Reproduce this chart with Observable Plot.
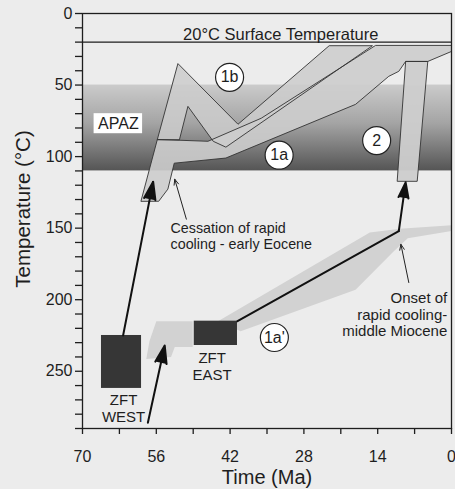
<!DOCTYPE html>
<html><head><meta charset="utf-8">
<script src="https://cdn.jsdelivr.net/npm/d3@7"></script>
<script src="https://cdn.jsdelivr.net/npm/@observablehq/plot@0.6"></script>
<style>
html,body{margin:0;padding:0;background:#ececec;}
#chart svg{display:block;}
</style></head><body><div id="chart"></div>
<script>
const FONT = "'Liberation Sans', Arial, Helvetica, sans-serif";

// axis ticks
const timeTicks = d3.range(0, 71, 7);      // Ma, labelled every 14
const tempTicks = d3.range(0, 291, 10);    // °C, labelled every 50

// reference levels
const surfaceTemp = [20];
const apazZone = [{t0: 70, t1: 0, top: 50, bottom: 110}];
const apazLabelBox = [{t0: 67.8, t1: 58.6, T0: 70, T1: 84}];

// time-temperature paths [Ma, °C]
const path1b = [[55.8,88],[51.9,35],[40.5,77.4],[23.2,22.5],[15.0,22.5],[42.8,93.4],[45.2,89.3],[50.0,64.9],[51.6,88]];
const path1a = [[58.9,131],[55.8,88],[46.2,89.3],[36.1,73.2],[14.4,22.3],[0,22.3],[0,26.5],[4.5,33.5],[8.7,33.5],[10.0,40.4],[11.9,43.9],[18.2,63.5],[42.8,101],[52.6,104.6],[53.8,122.7],[55.5,131]];
const path2 = [[10.3,117],[8.7,33.5],[4.5,33.5],[6.5,117]];
const path1aPrime = [[44.3,215],[15.5,153],[9.8,150.5],[0,148],[0,152],[8.3,157],[10.9,166],[18.2,193],[40,222]];
const westPatch = [[56,215],[49.1,215],[49.1,233],[52.5,233],[53.2,240],[57.9,241.5],[57.3,229]];

// zircon fission-track boxes
const zftBoxes = [
  {name: "WEST", t0: 66.4, t1: 58.8, T0: 225, T1: 262},
  {name: "EAST", t0: 48.8, t1: 40.6, T0: 215, T1: 232}
];

// black cooling path and arrows
const eastPath = [[40.6,215],[10,152]];
const thickArrows = [
  {t1: 62.3, T1: 225, t2: 56.6, T2: 117.5},
  {t1: 57.6, T1: 286, t2: 54.4, T2: 232},
  {t1: 10,   T1: 152, t2: 8.7,  T2: 118}
];
const noteArrows = [
  {t1: 50.3, T1: 143.7, t2: 52.5, T2: 115.8},
  {t1: 8.1,  T1: 188,   t2: 9.6,  T2: 161.3}
];

// labels
const circled = [
  {label: "1b", t: 42.1, T: 44.6},
  {label: "1a", t: 32.7, T: 99},
  {label: "2", t: 14.2, T: 88.8},
  {label: "1a'", t: 33.6, T: 226.4}
];
const notes = [
  {text: "20°C Surface Temperature", t: 32.4, T: 14.2, anchor: "middle", size: 16.5},
  {text: "APAZ", t: 63.2, T: 77, anchor: "middle", size: 16},
  {text: "Cessation of rapid\ncooling - early Eocene", t: 53.3, T: 155.5, anchor: "start", size: 14.3},
  {text: "Onset of\nrapid cooling-\nmiddle Miocene", t: 0.8, T: 210.1, anchor: "end", size: 15},
  {text: "ZFT\nWEST", t: 62.2, T: 275.8, anchor: "middle", size: 15},
  {text: "ZFT\nEAST", t: 45.4, T: 246.2, anchor: "middle", size: 15}
];

const P = d => d[0], Q = d => d[1];
const bandFill = "#cdcdcd";

const svg = Plot.plot({
  width: 455, height: 489,
  marginLeft: 82, marginRight: 4, marginTop: 13, marginBottom: 61,
  style: {fontFamily: FONT, background: "#ececec", color: "#1e1e1e"},
  x: {domain: [70, 0]},
  y: {domain: [0, 290], reverse: true},
  marks: [
    Plot.rect(apazZone, {x1: "t0", x2: "t1", y1: "top", y2: "bottom", fill: "url(#apazGrad)"}),
    Plot.ruleY(surfaceTemp, {stroke: "#1e1e1e", strokeWidth: 1.3}),
    // band fills
    Plot.line(path1a, {x: P, y: Q, curve: "linear-closed", fill: bandFill, fillOpacity: 0.9, stroke: "none"}),
    Plot.line(path1b, {x: P, y: Q, curve: "linear-closed", fill: bandFill, fillOpacity: 0.85, stroke: "none"}),
    Plot.line(path2, {x: P, y: Q, curve: "linear-closed", fill: bandFill, fillOpacity: 0.95, stroke: "none"}),
    // band outlines
    Plot.line(path1a, {x: P, y: Q, curve: "linear-closed", stroke: "#333", strokeWidth: 0.9}),
    Plot.line(path1b, {x: P, y: Q, curve: "linear-closed", stroke: "#333", strokeWidth: 0.9}),
    Plot.line(path2, {x: P, y: Q, curve: "linear-closed", stroke: "#333", strokeWidth: 0.9}),
    // lower stippled bands
    Plot.line(path1aPrime, {x: P, y: Q, curve: "linear-closed", fill: "#d2d2d2", stroke: "none"}),
    Plot.line(westPatch, {x: P, y: Q, curve: "linear-closed", fill: "#d2d2d2", stroke: "none"}),
    // ZFT boxes
    Plot.rect(zftBoxes, {x1: "t0", x2: "t1", y1: "T0", y2: "T1", fill: "#363636"}),
    // black path & arrows
    Plot.line(eastPath, {x: P, y: Q, stroke: "#111", strokeWidth: 2}),
    Plot.arrow(thickArrows, {x1: "t1", y1: "T1", x2: "t2", y2: "T2", stroke: "#111", fill: "#111", strokeWidth: 2, headLength: 14, headAngle: 36}),
    Plot.arrow(noteArrows, {x1: "t1", y1: "T1", x2: "t2", y2: "T2", stroke: "#222", strokeWidth: 1, headLength: 9, headAngle: 45}),
    // APAZ label box
    Plot.rect(apazLabelBox, {x1: "t0", x2: "t1", y1: "T0", y2: "T1", fill: "white"}),
    // circled labels
    Plot.dot(circled, {x: "t", y: "T", r: 14, fill: "white", stroke: "#222", strokeWidth: 1.2}),
    Plot.text(circled, {x: "t", y: "T", text: "label", fontSize: 16, fill: "#1e1e1e"}),
    // notes
    Plot.text(notes, {x: "t", y: "T", text: "text", textAnchor: "end", fontSize: 15, lineHeight: 1.12, fill: "#1e1e1e",
      filter: d => d.anchor === "end"}),
    Plot.text(notes, {x: "t", y: "T", text: "text", textAnchor: "start", fontSize: 14.3, lineHeight: 1.12, fill: "#1e1e1e",
      filter: d => d.anchor === "start"}),
    Plot.text(notes, {x: "t", y: "T", text: "text", textAnchor: "middle", fontSize: d => d.size, lineHeight: 1.12, fill: "#1e1e1e",
      filter: d => d.anchor === "middle"}),
    // axes
    Plot.axisX(timeTicks, {tickSize: 6, tickPadding: 16, fontSize: 16, label: null, strokeWidth: 1.3,
      tickFormat: d => d % 14 === 0 ? String(d) : ""}),
    Plot.axisY(tempTicks, {tickSize: 7, tickPadding: 3, fontSize: 16, label: null, strokeWidth: 1.3,
      tickFormat: d => d % 50 === 0 ? String(d) : ""}),
    Plot.frame({stroke: "#1e1e1e", strokeWidth: 1.3}),
    Plot.text(["Time (Ma)"], {text: d => d, frameAnchor: "bottom", lineAnchor: "middle", dy: 49, fontSize: 20, fill: "#1e1e1e"}),
    Plot.text(["Temperature (°C)"], {text: d => d, frameAnchor: "left", textAnchor: "middle", lineAnchor: "middle", rotate: -90, dx: -59, dy: -12, fontSize: 20.5, fill: "#1e1e1e"})
  ]
});

const defs = d3.select(svg).insert("defs", ":first-child");
const grad = defs.append("linearGradient").attr("id", "apazGrad")
  .attr("x1", 0).attr("y1", 0).attr("x2", 0).attr("y2", 1);
grad.append("stop").attr("offset", "0%").attr("stop-color", "#cbcbcb");
grad.append("stop").attr("offset", "45%").attr("stop-color", "#a4a4a4");
grad.append("stop").attr("offset", "100%").attr("stop-color", "#555555");

document.getElementById("chart").appendChild(svg);
</script>
</body></html>
